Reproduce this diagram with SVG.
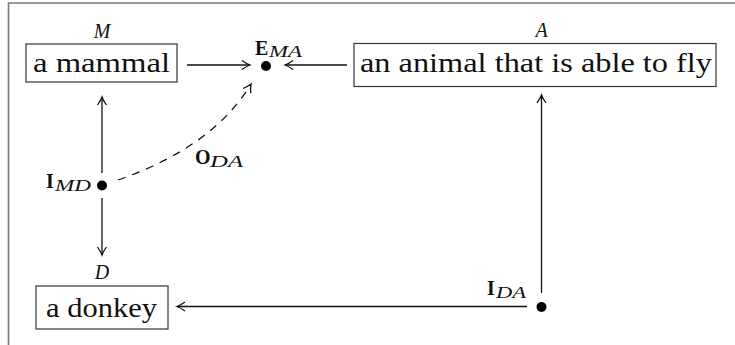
<svg xmlns="http://www.w3.org/2000/svg" width="735" height="345" viewBox="0 0 735 345">
<style>
.frame{fill:none;stroke:#7a7a7a;stroke-width:1.6}
.box{fill:#fff;stroke:#333;stroke-width:1.2}
text{font-family:"Liberation Serif","DejaVu Serif",serif;fill:#111}
.txt{font-size:28px}
.lab{font-style:italic;font-size:20px}
.bold{font-weight:bold;font-size:20px}
.sub{font-style:italic;font-size:16px}
.edge{fill:none;stroke:#111;stroke-width:1.3;marker-end:url(#arr)}
.dash{stroke-dasharray:8 7}
.dot{fill:#000}
</style>
<defs>
<marker id="arr" viewBox="-10 -6 12 12" refX="0" refY="0" markerWidth="12" markerHeight="12" markerUnits="userSpaceOnUse" orient="auto" overflow="visible">
<path d="M -8 -4.5 Q -3 -1 0 0 Q -3 1 -8 4.5" fill="none" stroke="#111" stroke-width="1.3"/>
</marker>
</defs>
<rect width="735" height="345" fill="#fff"/>
<path class="frame" d="M 8.5 345 V 3 H 735"/>
<g id="connectors">
<line class="edge" x1="187" y1="65" x2="250" y2="65"/>
<line class="edge" x1="347" y1="65" x2="285" y2="65"/>
<line class="edge" x1="102" y1="173" x2="102" y2="97"/>
<line class="edge" x1="102" y1="198" x2="102" y2="255"/>
<line class="edge" x1="541.5" y1="293" x2="541.5" y2="95"/>
<line class="edge" x1="527" y1="306.5" x2="177" y2="306.5"/>
<path class="edge dash" d="M 118 180 Q 213 147 251 84"/>
</g>
<g id="node-M">
<rect class="box" x="26" y="44" width="151" height="38"/>
<text class="txt" x="33" y="72" textLength="137" lengthAdjust="spacingAndGlyphs">a mammal</text>
<text class="lab" x="102" y="38" text-anchor="middle">M</text>
</g>
<g id="node-A">
<rect class="box" x="354" y="43.5" width="362" height="43"/>
<text class="txt" x="360" y="72" textLength="352" lengthAdjust="spacingAndGlyphs">an animal that is able to fly</text>
<text class="lab" x="541.5" y="37" text-anchor="middle">A</text>
</g>
<g id="node-D">
<rect class="box" x="36" y="286" width="132" height="43"/>
<text class="txt" x="46" y="317" textLength="111" lengthAdjust="spacingAndGlyphs">a donkey</text>
<text class="lab" x="102" y="279" text-anchor="middle">D</text>
</g>
<g id="node-EMA">
<circle class="dot" cx="266" cy="66" r="5"/>
<text class="bold" x="255" y="55">E</text>
<text class="sub" x="269" y="57" textLength="33" lengthAdjust="spacingAndGlyphs">MA</text>
</g>
<g id="node-IMD">
<circle class="dot" cx="102" cy="185.5" r="5"/>
<text class="bold" x="46" y="188">I</text>
<text class="sub" x="55" y="191" textLength="36" lengthAdjust="spacingAndGlyphs">MD</text>
</g>
<g id="node-IDA">
<circle class="dot" cx="541.5" cy="307" r="5"/>
<text class="bold" x="487" y="295">I</text>
<text class="sub" x="496" y="298" textLength="30" lengthAdjust="spacingAndGlyphs">DA</text>
</g>
<g id="label-ODA">
<text class="bold" x="195" y="164">O</text>
<text class="sub" x="210" y="167" textLength="33" lengthAdjust="spacingAndGlyphs">DA</text>
</g>
</svg>
